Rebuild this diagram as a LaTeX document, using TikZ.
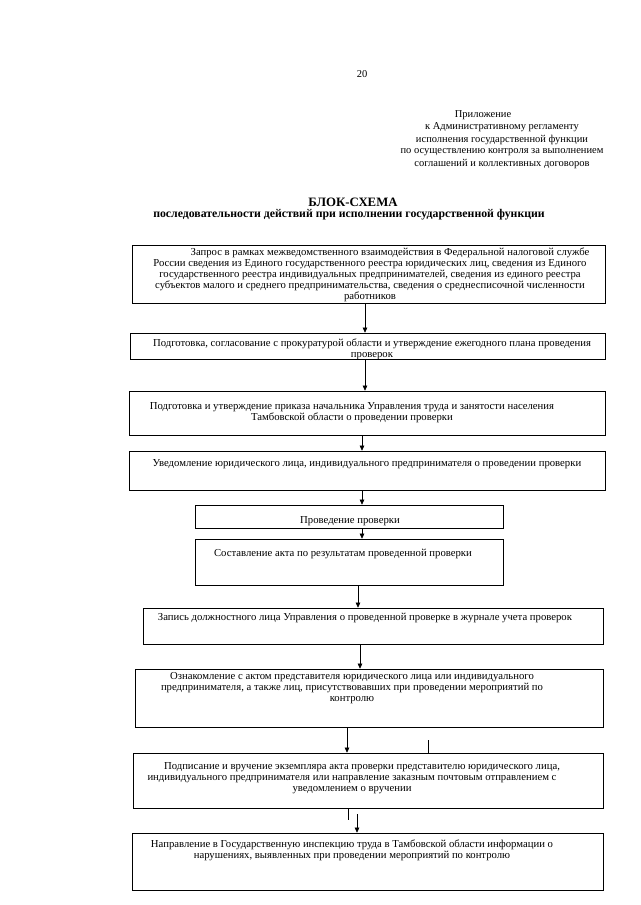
\documentclass[tikz,border=0pt]{standalone}
\usepackage{fontspec}
\setmainfont{Liberation Serif}
\usetikzlibrary{arrows.meta}
\newcommand\boxfont{\fontsize{10.7}{11}\selectfont}
\newcommand\hdrfont{\fontsize{10.5}{12.3}\selectfont}
\newcommand\titlefont{\fontsize{12.8}{14}\selectfont\bfseries}
\newcommand\subtitlefont{\fontsize{11.8}{14}\selectfont\bfseries}
\begin{document}
\begin{tikzpicture}[x=1pt,y=-1pt,
  blk/.style={draw, line width=0.65pt, inner sep=0pt},
  txt/.style={inner sep=0pt, align=center, font=\boxfont},
  hdr/.style={inner sep=0pt, align=center, font=\hdrfont},
  arr/.style={line width=0.6pt, -{Triangle[length=5pt,width=4.5pt]}},
  ln/.style={line width=0.6pt}]
\useasboundingbox[fill=white] (0,0) rectangle (640,905);

% header
\node[hdr] (pg) at (362,74) {20};
\node[hdr] (h1) at (483,115) {Приложение};
\node[hdr] (h2) at (502,127.5) {к Административному регламенту};
\node[hdr] (h3) at (502,139.5) {исполнения государственной функции};
\node[hdr] (h4) at (502,152) {по осуществлению контроля за выполнением};
\node[hdr] (h5) at (502,164) {соглашений и коллективных договоров};

\node[inner sep=0pt, font=\titlefont] (ttl) at (353,202) {БЛОК-СХЕМА};
\node[inner sep=0pt, font=\subtitlefont] (sub) at (349,215) {последовательности действий при исполнении государственной функции};

% boxes
\node[blk, minimum width=473pt, minimum height=58pt] (b1) at (368.5,274) {};
\node[blk, minimum width=475pt, minimum height=26pt] (b2) at (367.5,346) {};
\node[blk, minimum width=476pt, minimum height=44pt] (b3) at (367,413) {};
\node[blk, minimum width=476pt, minimum height=39pt] (b4) at (367,470.5) {};
\node[blk, minimum width=308pt, minimum height=23pt] (b5) at (349,516.5) {};
\node[blk, minimum width=308pt, minimum height=46pt] (b6) at (349,562) {};
\node[blk, minimum width=460pt, minimum height=36pt] (b7) at (373,626) {};
\node[blk, minimum width=468pt, minimum height=58pt] (b8) at (369,698) {};
\node[blk, minimum width=470pt, minimum height=55pt] (b9) at (368,780.5) {};
\node[blk, minimum width=471pt, minimum height=57pt] (b10) at (367.5,861.5) {};

% texts
\node[txt] (t1) at (370,274.5) {\hspace*{40pt}Запрос в рамках межведомственного взаимодействия в Федеральной налоговой службе\\
России сведения из Единого государственного реестра юридических лиц, сведения из Единого\\
государственного реестра индивидуальных предпринимателей, сведения из единого реестра\\
субъектов малого и среднего предпринимательства, сведения о среднесписочной численности\\
работников};
\node[txt] (t2) at (372,349.5) {Подготовка, согласование с прокуратурой области и утверждение ежегодного плана проведения\\ проверок};
\node[txt] (t3) at (352,413) {Подготовка и утверждение приказа начальника Управления труда и занятости населения\\ Тамбовской области о проведении проверки};
\node[txt] (t4) at (367,464) {Уведомление юридического лица, индивидуального предпринимателя о проведении проверки};
\node[txt] (t5) at (350,521) {Проведение проверки};
\node[txt] (t6) at (343,554) {Составление акта по результатам проведенной проверки};
\node[txt] (t7) at (365,618) {Запись должностного лица Управления о проведенной проверке в журнале учета проверок};
\node[txt] (t8) at (352,688.5) {Ознакомление с актом представителя юридического лица или индивидуального\\
предпринимателя, а также лиц, присутствовавших при проведении мероприятий по\\ контролю};
\node[txt] (t9) at (352,778) {\hspace*{20pt}Подписание и вручение экземпляра акта проверки представителю юридического лица,\\
индивидуального предпринимателя или направление заказным почтовым отправлением с\\
уведомлением о вручении};
\node[txt] (t10) at (352,850.5) {Направление в Государственную инспекцию труда в Тамбовской области информации о\\
нарушениях, выявленных при проведении мероприятий по контролю};

% arrow x positions
\coordinate (x1) at (365,0);
\coordinate (x3) at (362,0);
\coordinate (x6) at (358,0);
\coordinate (x7) at (360,0);
\coordinate (x8) at (347,0);
\coordinate (s9) at (348,820);
\coordinate (t9) at (357,814);
\coordinate (tk) at (428,740);

\draw[arr] (b1.south -| x1) -- (b2.north -| x1);
\draw[arr] (b2.south -| x1) -- (b3.north -| x1);
\draw[arr] (b3.south -| x3) -- (b4.north -| x3);
\draw[arr] (b4.south -| x3) -- (b5.north -| x3);
\draw[arr] (b5.south -| x3) -- (b6.north -| x3);
\draw[arr] (b6.south -| x6) -- (b7.north -| x6);
\draw[arr] (b7.south -| x7) -- (b8.north -| x7);
\draw[arr] (b8.south -| x8) -- (b9.north -| x8);
\draw[ln] (b9.south -| s9) -- (s9);
\draw[arr] (t9) -- (b10.north -| t9);
\draw[ln] (b9.north -| tk) -- (tk);
\end{tikzpicture}
\end{document}
